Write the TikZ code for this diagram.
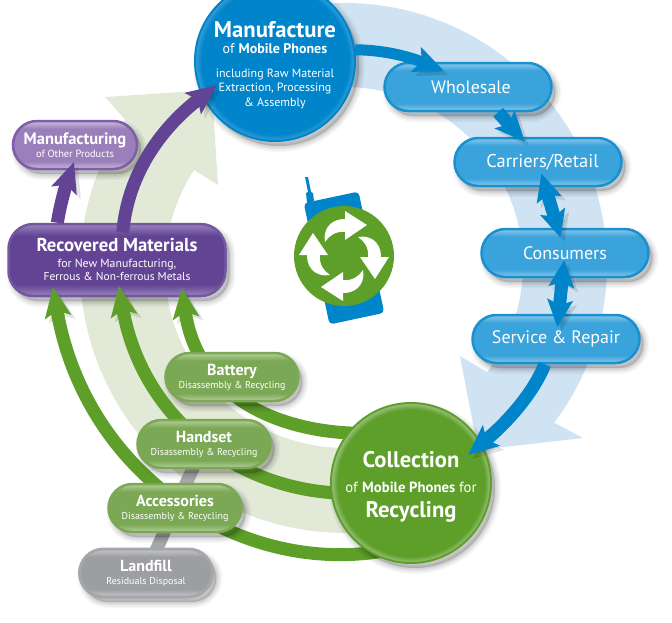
\documentclass[tikz,border=0pt]{standalone}
\usepackage{fontspec}
\setmainfont{PT Sans}
\usetikzlibrary{arrows.meta,shapes.misc}

\definecolor{mobblue}{HTML}{0085CB}
\definecolor{pillblue}{HTML}{3AA3DB}
\definecolor{rimblue}{HTML}{8CC8EA}
\definecolor{rimball}{HTML}{3A9FD8}
\definecolor{bandblue}{HTML}{D0E3F2}
\definecolor{mobgreen}{HTML}{5E9F2A}
\definecolor{pillgreen}{HTML}{7BA854}
\definecolor{rimgreen}{HTML}{B5D09C}
\definecolor{rimcoll}{HTML}{A0C384}
\definecolor{bandgreen}{HTML}{E2E9D7}
\definecolor{mobpurple}{HTML}{634494}
\definecolor{rimpurple}{HTML}{9A84BE}
\definecolor{pilllilac}{HTML}{9A7FBB}
\definecolor{rimlilac}{HTML}{CBBEDD}
\definecolor{edgelilac}{HTML}{7F5DA8}
\definecolor{pillgrey}{HTML}{9C9EA1}
\definecolor{rimgrey}{HTML}{C8C9CB}
\definecolor{edgegrey}{HTML}{A5A7AA}

\newcommand{\pillshading}[3]{\pgfdeclareverticalshading{#1}{100bp}{color(0bp)=(#3); color(25bp)=(#3); color(33bp)=(#2); color(67bp)=(#2); color(75bp)=(#3); color(100bp)=(#3)}}
\newcommand{\ballshading}[3]{\pgfdeclareradialshading{#1}{\pgfpointorigin}{color(0bp)=(#2); color(23bp)=(#2); color(25bp)=(#3); color(50bp)=(#3)}}
\pillshading{shblue}{pillblue}{rimblue}
\pillshading{shgreen}{pillgreen}{rimgreen}
\pillshading{shlilac}{pilllilac}{rimlilac}
\pillshading{shpurple}{mobpurple}{rimpurple}
\pillshading{shgrey}{pillgrey}{rimgrey}
\ballshading{shman}{mobblue}{rimball}
\ballshading{shcoll}{mobgreen}{rimcoll}

\newcommand{\headtxt}[2]{{\fontsize{#1}{#1}\selectfont\bfseries #2}}
\newcommand{\subtxt}[2]{{\fontsize{#1}{#1}\selectfont #2}}

\pgfdeclarelayer{bands}
\pgfdeclarelayer{under}
\pgfdeclarelayer{links}
\pgfdeclarelayer{front}
\pgfsetlayers{bands,under,links,main,front}

\begin{document}
\begin{tikzpicture}[x=1pt,y=-1pt]
  \tikzset{
    softshadow/.style={
      preaction={draw=black,fill=black,opacity=.03,line width=12pt,transform canvas={shift={(4pt,-5pt)}}},
      preaction={draw=black,fill=black,opacity=.04,line width=9pt,transform canvas={shift={(4pt,-5pt)}}},
      preaction={draw=black,fill=black,opacity=.05,line width=6pt,transform canvas={shift={(4pt,-5pt)}}},
      preaction={draw=black,fill=black,opacity=.06,line width=3pt,transform canvas={shift={(4pt,-5pt)}}}},
    pill/.style={rounded rectangle,minimum height=48pt,minimum width=167pt,inner sep=0pt,line width=2.5pt,text=white,align=center,softshadow},
    bluepill/.style={pill,shade,shading=shblue,draw=mobblue!90!white},
    greenpill/.style={pill,minimum width=133pt,shade,shading=shgreen,draw=pillgreen},
    greypill/.style={pill,minimum width=133pt,shade,shading=shgrey,draw=edgegrey,line width=3pt},
    lilacpill/.style={pill,minimum width=124pt,shade,shading=shlilac,draw=edgelilac},
    ball/.style={circle,minimum size=160pt,inner sep=0pt,line width=2pt,text=white,align=center,softshadow},
    flow/.style={line width=13pt,preaction={draw=black,opacity=.11,transform canvas={shift={(4pt,-4pt)}}}},
    onetip/.style={-{Stealth[length=30pt,width=26pt,inset=6pt]}},
    twotips/.style={{Stealth[length=27pt,width=25pt,inset=5pt]}-{Stealth[length=27pt,width=25pt,inset=5pt]}}
  }
  \useasboundingbox (0,0) rectangle (672,622);

  % wide arrows behind everything
  \begin{pgfonlayer}{bands}
    \fill[bandblue] plot[domain=95:-37,samples=60] ({345+262*cos(\x)},{265-262*sin(\x)})
      -- (583,438) -- (478,450) -- (460,356)
      -- plot[domain=-37:95,samples=60] ({345+178*cos(\x)},{265-178*sin(\x)}) -- cycle;
    \fill[bandgreen] plot[domain=275:146,samples=60] ({345+265*cos(\x)},{268-265*sin(\x)})
      -- (105,97) -- (212,90) -- (218,185)
      -- plot[domain=147:275,samples=60] ({345+180*cos(\x)},{268-180*sin(\x)}) -- cycle;
  \end{pgfonlayer}

  \begin{pgfonlayer}{under}
    \node[pill,rectangle,rounded corners=25pt,minimum width=217pt,minimum height=72pt,shade,shading=shpurple,draw=mobpurple!90!white] (recov) at (117,260)
      {\headtxt{18.7}{Recovered Materials}\\[4pt]\subtxt{11.8}{for New Manufacturing,}\\[1pt]\subtxt{11.5}{Ferrous \& Non-ferrous Metals}\\[-11pt]};
  \end{pgfonlayer}

  % nodes
  \node[ball,shade,shading=shman,draw=mobblue] (man) at (275,61)
    {\\[8pt]\headtxt{22.7}{Manufacture}\\[4pt]\subtxt{14}{of \textbf{Mobile Phones}}\\[12pt]\subtxt{12}{including Raw Material}\\[2pt]\subtxt{12}{Extraction, Processing}\\[3pt]\subtxt{12}{\& Assembly}};
  \node[ball,shade,shading=shcoll,draw=mobgreen] (coll) at (411,483)
    {\\[7pt]\headtxt{22.6}{Collection}\\[13pt]\subtxt{14.7}{of \textbf{Mobile Phones} for}\\[8pt]\headtxt{22.6}{Recycling}};
  \node[lilacpill] (other) at (75,145) {\headtxt{16.5}{Manufacturing}\\[1pt]\subtxt{10.4}{of Other Products}};
  \node[bluepill] (whole) at (468,87) {\hspace*{6pt}\subtxt{18}{Wholesale}};
  \node[bluepill] (carr) at (538,162) {\hspace*{9pt}\subtxt{18.5}{Carriers/Retail}};
  \node[bluepill] (cons) at (565,253) {\subtxt{18}{Consumers}};
  \node[bluepill] (serv) at (556,339) {\subtxt{18}{Service \& Repair}};
  \node[greenpill] (batt) at (232,377) {\headtxt{16}{Battery}\\[1pt]\subtxt{10}{Disassembly \& Recycling}};
  \node[greenpill] (hand) at (204,444) {\headtxt{16}{Handset}\\[1pt]\subtxt{10}{Disassembly \& Recycling}};
  \node[greenpill] (acc) at (175,508) {\headtxt{16}{Accessories}\\[1pt]\subtxt{10}{Disassembly \& Recycling}};
  \node[greypill] (land) at (146,573) {\headtxt{16}{Landfill}\\[1pt]\subtxt{10}{Residuals Disposal}};

  % tips that end inside a node
  \coordinate (manin) at (217,85);
  \coordinate (otherin) at (74,162);
  \coordinate (wholein) at (444,71);
  \coordinate (carrin) at (525,142);
  \coordinate (collin) at (468,455);
  \coordinate (recA) at (182,288);
  \coordinate (recB) at (119,286);
  \coordinate (recC) at (53,287);

  \begin{pgfonlayer}{links}
    \draw[line width=13pt,edgegrey] (hand.center) -- (acc.center);
    \draw[line width=13pt,edgegrey] (acc.center) -- (land.center);
    \draw[flow,onetip,mobgreen,shorten <=-12pt] (coll.142) .. controls (280,432) and (197,398) .. (recA);
    \draw[flow,onetip,mobgreen,shorten <=-12pt] (coll.187) .. controls (235,490) and (141,416) .. (recB);
    \draw[flow,onetip,mobgreen,shorten <=-12pt] (coll.240) .. controls (240,575) and (85,475) .. (recC);
  \end{pgfonlayer}

  \begin{pgfonlayer}{front}
    \draw[flow,onetip,mobpurple,shorten <=-10pt] (recov.80) .. controls (128,170) and (165,125) .. (manin);
    \draw[flow,onetip,mobpurple] (recov.148) .. controls (60,205) and (66,185) .. (otherin);
    \draw[flow,line width=11pt,onetip,mobblue] (man.8) .. controls (380,50) and (405,55) .. (wholein);
    \draw[flow,onetip,mobblue] (whole.-40) -- (carrin);
    \draw[flow,twotips,mobblue,shorten <=12pt,shorten >=16pt] (carr.center) -- (cons.center);
    \draw[flow,twotips,mobblue,shorten <=7pt,shorten >=12pt] (cons.center) -- (serv.center);
    \draw[flow,onetip,mobblue] (serv.-114) .. controls (535,390) and (510,420) .. (collin);
  \end{pgfonlayer}

  % phone with the recycling arrows
  \fill[mobblue] (305,177) -- (308,177) -- (311,192) -- (313,193) -- (314,201) -- (307,203) -- (306,193) -- (308,192) -- cycle;
  \node[fill=mobblue,rotate=12,rounded corners=4pt,minimum width=56pt,minimum height=124pt,inner sep=0pt] (phone) at (344,258) {};
  \node[circle,fill=mobgreen,minimum size=100pt,inner sep=0pt] (hub) at (344,256) {};
  \foreach \a in {0,90,180,270}
    \fill[white,rotate around={\a:(344,256)},shift={(344,256)}] (-19,-14)
      .. controls (-21,-24) and (-16,-37) .. (1,-37) -- (1,-45) -- (23,-31) -- (1,-16) -- (1,-24)
      .. controls (-9,-25) and (-15,-20) .. (-19,-14) -- cycle;
\end{tikzpicture}
\end{document}
